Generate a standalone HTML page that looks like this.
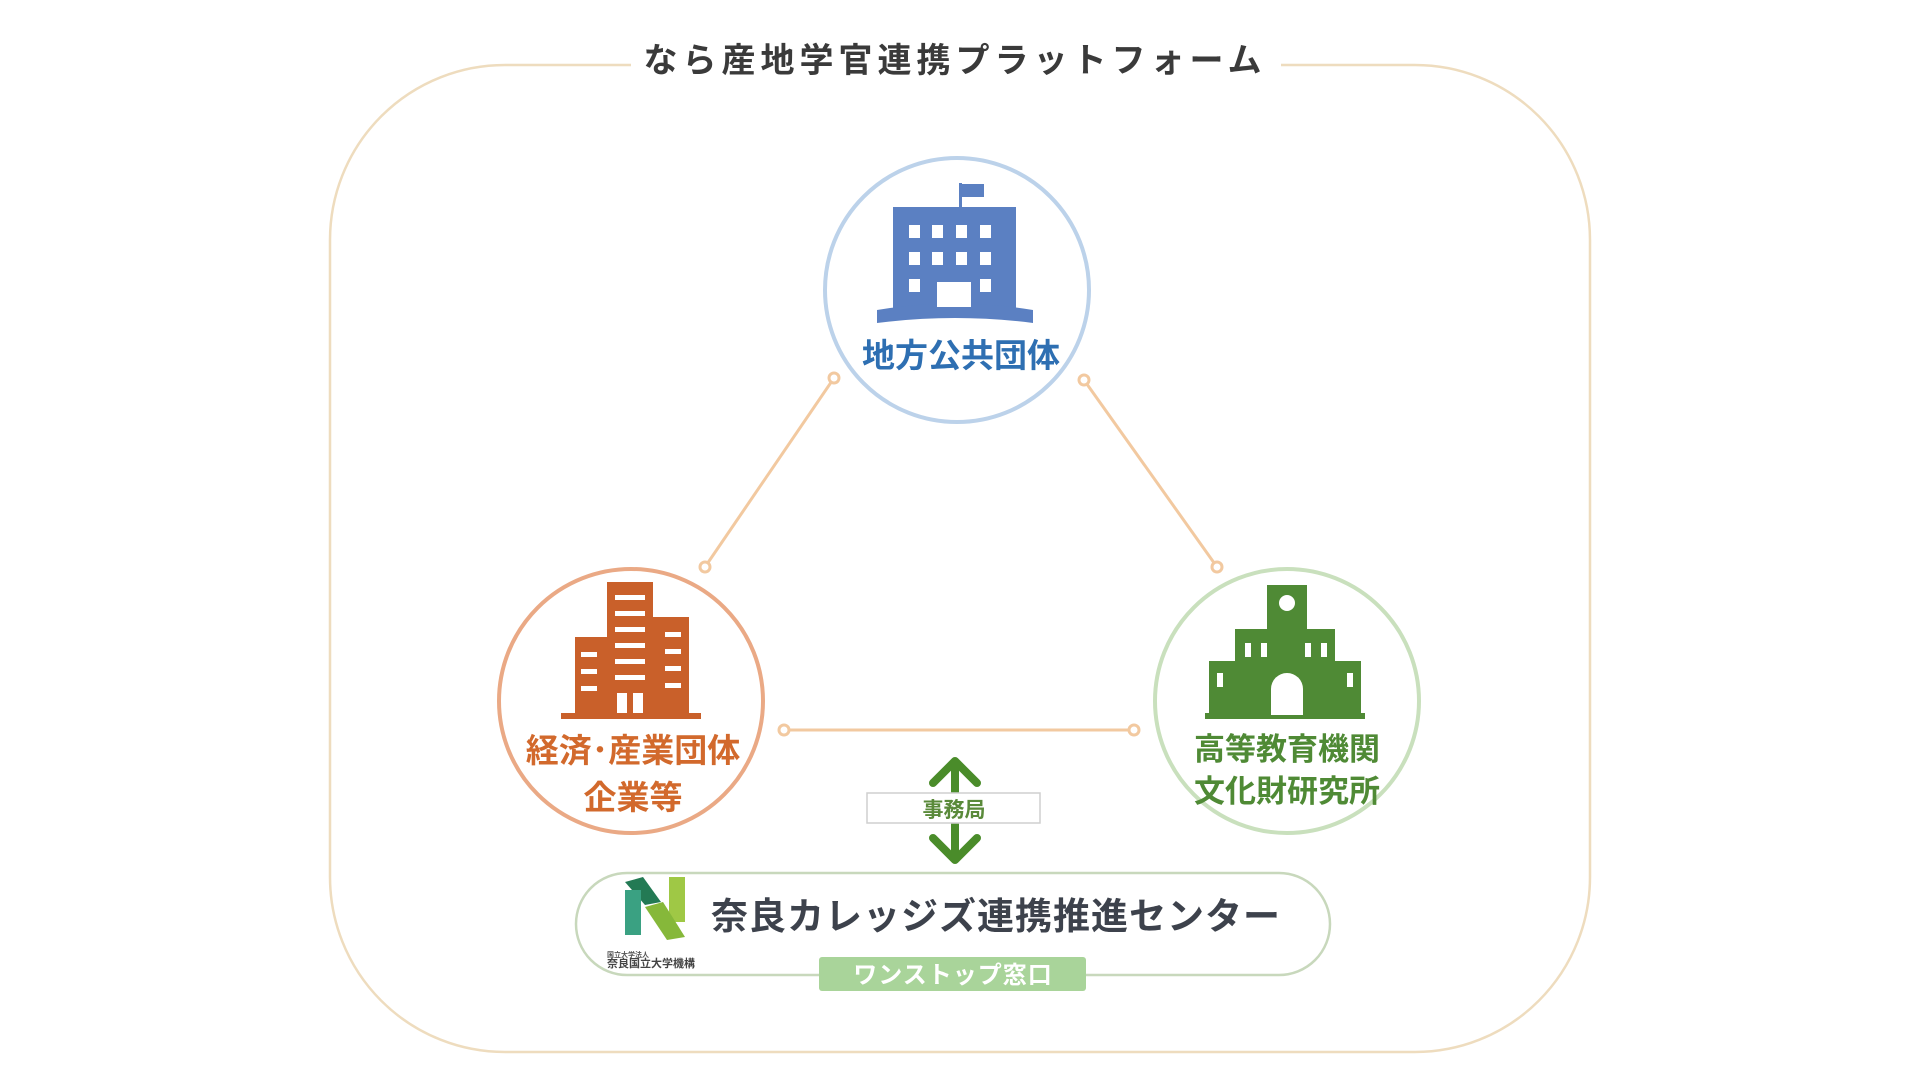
<!DOCTYPE html>
<html><head><meta charset="utf-8"><style>
html,body{margin:0;padding:0;background:#fff;width:1920px;height:1080px;overflow:hidden}
svg text{font-family:"Liberation Sans","Noto Sans CJK JP",sans-serif;font-weight:bold}
</style></head><body>
<svg width="1920" height="1080" viewBox="0 0 1920 1080" xmlns="http://www.w3.org/2000/svg">
<g transform="translate(-5,-3)">
<rect x="335" y="68" width="1260" height="987" rx="175" fill="none" stroke="#eedcbe" stroke-width="2.5"/>
<rect x="636" y="40" width="650" height="50" fill="#fff"/>
<text x="960" y="75" text-anchor="middle" font-size="34" fill="#3a3a3a" letter-spacing="5">なら産地学官連携プラットフォーム</text>

<g stroke="#f2c9a0" stroke-width="3" fill="#fff">
<line x1="839" y1="381" x2="710" y2="570"/>
<line x1="1089" y1="383" x2="1222" y2="570"/>
<line x1="789" y1="733" x2="1139" y2="733"/>
<circle cx="839" cy="381" r="5"/><circle cx="710" cy="570" r="5"/>
<circle cx="1089" cy="383" r="5"/><circle cx="1222" cy="570" r="5"/>
<circle cx="789" cy="733" r="5"/><circle cx="1139" cy="733" r="5"/>
</g>

<circle cx="962" cy="293" r="132" fill="#fff" stroke="#bcd2ea" stroke-width="4"/>
<circle cx="636" cy="704" r="132" fill="#fff" stroke="#eaa985" stroke-width="4"/>
<circle cx="1292" cy="704" r="132" fill="#fff" stroke="#c9e0bd" stroke-width="4"/>

<g fill="#5b80c2">
<rect x="964" y="186" width="3" height="26"/>
<rect x="967" y="187" width="22" height="13"/>
<rect x="898" y="210" width="123" height="103"/>
<path d="M882 313 Q960 300 1038 313 L1038 326 Q960 316 882 326 Z"/>
</g>
<g fill="#fff">
<rect x="914" y="228" width="11" height="13"/><rect x="937" y="228" width="11" height="13"/><rect x="961" y="228" width="11" height="13"/><rect x="985" y="228" width="11" height="13"/>
<rect x="914" y="255" width="11" height="13"/><rect x="937" y="255" width="11" height="13"/><rect x="961" y="255" width="11" height="13"/><rect x="985" y="255" width="11" height="13"/>
<rect x="914" y="282" width="11" height="13"/><rect x="985" y="282" width="11" height="13"/>
<rect x="942" y="285" width="34" height="25"/>
</g>
<text x="966" y="370" text-anchor="middle" font-size="33" fill="#2e6fb2">地方公共団体</text>

<g fill="#c9602a">
<rect x="612" y="585" width="46" height="135"/>
<rect x="580" y="640" width="34" height="80"/>
<rect x="656" y="620" width="38" height="100"/>
<rect x="566" y="716" width="140" height="6"/>
</g>
<g fill="#fff">
<rect x="620" y="598" width="30" height="5"/><rect x="620" y="614" width="30" height="5"/><rect x="620" y="630" width="30" height="5"/><rect x="620" y="646" width="30" height="5"/><rect x="620" y="662" width="30" height="5"/><rect x="620" y="678" width="30" height="5"/>
<rect x="586" y="655" width="16" height="5"/><rect x="586" y="672" width="16" height="5"/><rect x="586" y="689" width="16" height="5"/>
<rect x="670" y="635" width="16" height="5"/><rect x="670" y="652" width="16" height="5"/><rect x="670" y="669" width="16" height="5"/><rect x="670" y="686" width="16" height="5"/>
<rect x="622" y="696" width="10" height="20"/><rect x="638" y="696" width="10" height="20"/>
</g>
<text x="638" y="765" text-anchor="middle" font-size="33" fill="#d2692c">経済･産業団体</text>
<text x="638" y="812" text-anchor="middle" font-size="33" fill="#d2692c">企業等</text>

<g fill="#4f8a35">
<rect x="1272" y="588" width="40" height="130"/>
<rect x="1240" y="632" width="100" height="86"/>
<rect x="1214" y="664" width="28" height="54"/>
<rect x="1338" y="664" width="28" height="54"/>
<rect x="1210" y="716" width="160" height="6"/>
</g>
<g fill="#fff">
<circle cx="1292" cy="606" r="8"/>
<rect x="1250" y="646" width="6" height="14"/><rect x="1266" y="646" width="6" height="14"/><rect x="1310" y="646" width="6" height="14"/><rect x="1326" y="646" width="6" height="14"/>
<rect x="1222" y="676" width="6" height="14"/><rect x="1352" y="676" width="6" height="14"/>
<path d="M1276 718 V692 A16 16 0 0 1 1308 692 V718 Z"/>
</g>
<text x="1292" y="763" text-anchor="middle" font-size="31" fill="#4f8a35">高等教育機関</text>
<text x="1292" y="805" text-anchor="middle" font-size="31" fill="#4f8a35">文化財研究所</text>

<g stroke="#4a8c2a" stroke-width="8" fill="none" stroke-linecap="round" stroke-linejoin="round">
<line x1="960" y1="765" x2="960" y2="862"/>
<polyline points="938,786 960,764 982,786"/>
<polyline points="938,841 960,863 982,841"/>
</g>
<rect x="872" y="796" width="173" height="30" fill="#fff" stroke="#cfcfcf" stroke-width="1.5"/>
<text x="959" y="820" text-anchor="middle" font-size="21" fill="#5a8a3a">事務局</text>

<rect x="581" y="876" width="754" height="102" rx="51" fill="#fff" stroke="#c8d8bc" stroke-width="2.5"/>
<path d="M630 885 L648 880 L666 905 L650 908 Z" fill="#237a54"/>
<rect x="630" y="893" width="16" height="45" fill="#3aa182"/>
<rect x="674" y="880" width="16" height="45" fill="#9fc845"/>
<path d="M650 910 L668 905 L690 940 L672 943 Z" fill="#86b83a"/>
<text x="612" y="960" font-size="7" fill="#555">国立大学法人</text>
<text x="612" y="970" font-size="11" fill="#444">奈良国立大学機構</text>
<text x="716" y="932" font-size="37" fill="#3d424c" letter-spacing="1">奈良カレッジズ連携推進センター</text>
<rect x="824" y="960" width="267" height="34" rx="3" fill="#a9d49a"/>
<text x="958" y="986" text-anchor="middle" font-size="24" fill="#fff" letter-spacing="1">ワンストップ窓口</text>
</g>
</svg>
</body></html>
